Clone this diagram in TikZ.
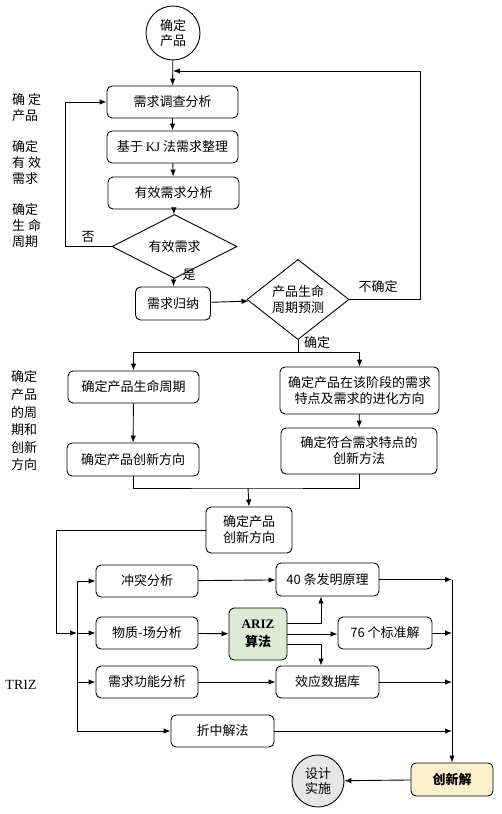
\documentclass[tikz,border=0pt]{standalone}
\usepackage{fontspec}
\setmainfont{Liberation Serif}
\newfontfamily\cjk{Noto Sans CJK SC}
\usetikzlibrary{shapes.geometric,arrows.meta}
\definecolor{arizgreen}{HTML}{DFEAD6}
\definecolor{solcream}{HTML}{FCEFCC}
\definecolor{implgray}{HTML}{E6E6E6}
\tikzset{
  box/.style={draw, line width=0.9pt, rounded corners=5pt, inner sep=0pt, align=center,
    font=\cjk\fontsize{13}{16}\selectfont},
  dia/.style={draw, line width=0.9pt, diamond, inner sep=0pt, align=center,
    font=\cjk\fontsize{13}{16}\selectfont},
  rnd/.style={draw, line width=0.9pt, circle, inner sep=0pt, align=center,
    font=\cjk\fontsize{13}{15}\selectfont},
  arr/.style={line width=0.9pt, -{Latex[length=7pt,width=5.5pt]}},
  ln/.style={line width=0.9pt},
  lbl/.style={inner sep=0pt, font=\cjk\fontsize{13}{15}\selectfont},
  side/.style={inner sep=0pt, align=left, anchor=west, font=\cjk\fontsize{13}{16}\selectfont}
}
\begin{document}
\begin{tikzpicture}[x=1pt,y=-1pt]
\useasboundingbox (0,0) rectangle (502,814);
% nodes
\node[rnd, minimum size=54pt] (start) at (173,33) {确定\\产品};
\node[box, minimum width=131pt, minimum height=32pt] (b1) at (172.5,102) {需求调查分析};
\node[box, minimum width=131pt, minimum height=32pt] (b2) at (172.5,147) {基于 {\rmfamily KJ} 法需求整理};
\node[box, minimum width=131pt, minimum height=32pt] (b3) at (173.5,193) {有效需求分析};
\node[dia, minimum width=125pt, minimum height=43pt] (d1) at (174.5,246.5) {有效需求};
\node[box, minimum width=75pt, minimum height=33pt] (b4) at (173,303.5) {需求归纳};
\node[dia, minimum width=102pt, minimum height=71pt] (d2) at (298,299.5) {产品生命\\周期预测};
\node[box, minimum width=131pt, minimum height=32pt] (b5) at (133.5,387) {确定产品生命周期};
\node[box, minimum width=159pt, minimum height=47pt] (b6) at (359.5,390.5) {确定产品在该阶段的需求\\特点及需求的进化方向};
\node[box, minimum width=132pt, minimum height=33pt] (b7) at (133,459.5) {确定产品创新方向};
\node[box, minimum width=156pt, minimum height=46pt] (b8) at (359,451) {确定符合需求特点的\\创新方法};
\node[box, minimum width=86pt, minimum height=46pt] (b9) at (249,530) {确定产品\\创新方向};
\node[box, minimum width=102pt, minimum height=32pt] (c1) at (147,581) {冲突分析};
\node[box, minimum width=102pt, minimum height=32pt] (c2) at (147,633) {物质-场分析};
\node[box, minimum width=102pt, minimum height=32pt] (c3) at (147,682) {需求功能分析};
\node[box, minimum width=103pt, minimum height=32pt] (c4) at (222.5,731) {折中解法};
\node[box, fill=arizgreen, minimum width=58pt, minimum height=52pt, font=\bfseries\cjk\fontsize{13}{18}\selectfont] (ariz) at (258,634) {{\rmfamily\bfseries ARIZ}\\算法};
\node[box, minimum width=103pt, minimum height=33pt] (p40) at (327.5,579.5) {40 条发明原理};
\node[box, minimum width=94pt, minimum height=32pt] (p76) at (385,633) {76 个标准解};
\node[box, minimum width=103pt, minimum height=32pt] (eff) at (327.5,682) {效应数据库};
\node[box, fill=solcream, minimum width=82pt, minimum height=33pt, font=\cjk\bfseries\fontsize{13}{16}\selectfont] (sol) at (452,779.5) {创新解};
\node[rnd, fill=implgray, minimum size=52pt] (impl) at (318,781) {设计\\实施};
% side labels
\node[side] (s1) at (12,108) {确 定\\产品};
\node[side] (s2) at (12,163) {确定\\有 效\\需求};
\node[side] (s3) at (12,226) {确定\\生 命\\周期};
\node[side, font=\cjk\fontsize{13}{17.6}\selectfont] (s4) at (11,421) {确定\\产品\\的周\\期和\\创新\\方向};
\node[inner sep=0pt, font=\rmfamily\fontsize{14}{16}\selectfont] (triz) at (21,685) {TRIZ};
% edge labels
\node[lbl] (no) at (88,237) {否};
\node[lbl] (yes) at (189,275) {是};
\node[lbl] (unk) at (378,287) {不确定};
\node[lbl] (ok) at (317,343) {确定};
% coordinates
\coordinate (fb) at (173,71);
\coordinate (fbR) at (420,71);
\coordinate (split) at (298,352);
\coordinate (merge) at (248,488);
\coordinate (lbus) at (56,633);
\coordinate (busT) at (77,581);
\coordinate (busM) at (77,633);
\coordinate (busD) at (77,682);
\coordinate (busB) at (77,731);
\coordinate (rT) at (452,579.5);
% connectors
\draw[arr] (start) -- (b1);
\draw[arr] (d2.east) -| (fbR) -- (fb);
\draw[arr] (b1) -- (b2);
\draw[arr] (b2) -- (b3);
\draw[arr] (b3) -- (d1);
\draw[arr] (d1.west) -- ++(-46,0) |- (b1.west);
\draw[arr] (d1) -- (b4);
\draw[arr] (b4) -- (d2);
\draw[ln] (d2.south) -- (split);
\draw[arr] (split) -| (b5.north);
\draw[arr] (split) -| (b6.north);
\draw[arr] (b5) -- (b7);
\draw[arr] (b6) -- (b8);
\draw[ln] (b7.south) |- (merge) -| (b8.south);
\draw[arr] (merge) -- (b9.north);
\draw[arr] (b9.west) -| (lbus) -- (busM);
\draw[ln] (busT) -- (busB);
\draw[arr] (busT) -- (c1.west);
\draw[arr] (busM) -- (c2.west);
\draw[arr] (busD) -- (c3.west);
\draw[arr] (busB) -- (c4.west);
\draw[arr] (c1) -- (p40);
\draw[arr] (c2) -- (ariz);
\draw[arr] (c3) -- (eff);
\draw[arr] ([yshift=11pt]ariz.east) -| ([xshift=-6.5pt]p40.south);
\draw[arr] (ariz.east) -- (ariz.east -| p76.west);
\draw[arr] ([yshift=-10pt]ariz.east) -| ([xshift=-6.5pt]eff.north);
\draw[arr] (p40.east) -- (rT);
\draw[arr] (p76.east) -- (p76.east -| rT);
\draw[arr] (eff.east) -- (eff.east -| rT);
\draw[arr] (c4.east) -- (c4.east -| rT);
\draw[arr] (rT) -- (sol.north);
\draw[arr] (sol) -- (impl);
\end{tikzpicture}
\end{document}
